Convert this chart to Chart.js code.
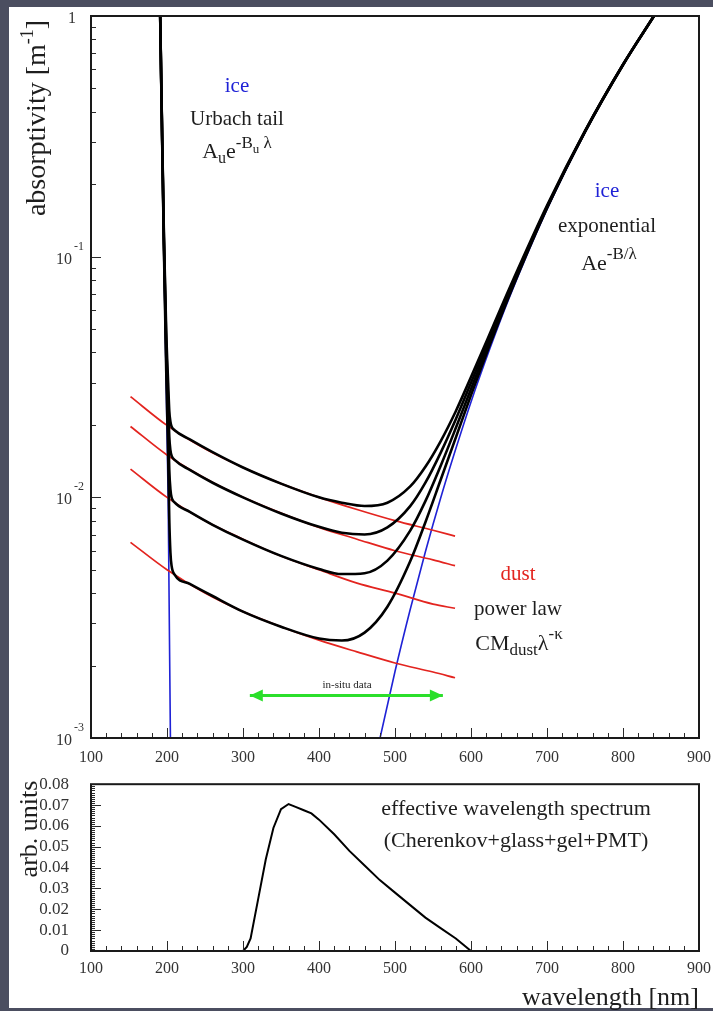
<!DOCTYPE html>
<html><head><meta charset="utf-8">
<script src="https://cdn.jsdelivr.net/npm/chart.js@4.4.1/dist/chart.umd.min.js"></script>
<style>
html,body{margin:0;padding:0;background:#4b4e60;width:713px;height:1011px;overflow:hidden}
#panel{position:absolute;left:9px;top:7px;width:704px;height:1001px;background:#fff}
#c1{position:absolute;left:0;top:0}
#c2{position:absolute;left:0;top:760px}
</style></head><body>
<div id="panel"></div>
<canvas id="c1" width="713" height="780"></canvas>
<canvas id="c2" width="713" height="254"></canvas>
<script>
// ---------------- data ----------------
const blackWl = [191,193,196,199,201.5,203,204.5,206,210,230,260,300,350,400,430,460,490,520,540,560,580,600,625,650,700,750,800,841];
const black1 = [1.02,0.419,0.1204,0.0486,0.0299,0.0229,0.0206,0.0197,0.0190,0.0174,0.0154,0.0133,0.0114,0.0100,0.0095,0.0092,0.0095,0.0111,0.0134,0.0171,0.0228,0.0316,0.0480,0.0732,0.163,0.333,0.629,1.005];
const black2 = [1.016,0.414,0.1153,0.0436,0.0249,0.0179,0.0157,0.0149,0.0143,0.0130,0.0115,0.0100,0.00857,0.00754,0.00713,0.00701,0.00750,0.00919,0.0115,0.0153,0.0211,0.0299,0.0464,0.0716,0.161,0.332,0.628,1.004];
const black3 = [1.010,0.408,0.1102,0.0386,0.0199,0.0130,0.0108,0.0100,0.00952,0.0087,0.00769,0.00667,0.00571,0.00504,0.0048,0.00484,0.00546,0.00727,0.00964,0.0135,0.0194,0.0282,0.0448,0.0701,0.160,0.331,0.627,1.002];
const black4 = [1.005,0.403,0.1051,0.0335,0.0150,0.0081,0.0059,0.0052,0.00477,0.00437,0.00389,0.00335,0.0029,0.00259,0.00254,0.00274,0.00351,0.00542,0.00788,0.0118,0.0177,0.0266,0.0432,0.0685,0.159,0.330,0.626,1.001];

const redWl = [152,200,250,300,350,400,450,500,550,579];
const red1 = [0.0262,0.0199,0.0159,0.0133,0.0114,0.0100,0.0089,0.0080,0.0073,0.0069];
const red2 = [0.0197,0.0150,0.0120,0.0100,0.0086,0.0075,0.0067,0.0060,0.0055,0.0052];
const red3 = [0.0131,0.0100,0.0080,0.0067,0.0057,0.0050,0.0044,0.0040,0.0036,0.00346];
const red4 = [0.0065,0.0050,0.0040,0.00335,0.0029,0.00255,0.00228,0.00205,0.00188,0.00178];

const urbachWl = [191,196,201.5,204.5,205.5];
const urbachVal = [1.0,0.1,0.01,0.001,0.0006];

const iceWl = [470,480,500,520,540,560,580,600,625,650,700,750,800,841];
const iceVal = [0.0007,0.00099,0.00189,0.00342,0.00594,0.00991,0.0159,0.0249,0.0416,0.067,0.157,0.328,0.624,1.0];

const insituWl = [309,563];
const insituVal = [0.0015,0.0015];

const specWl = [300,305,310,320,330,340,350,360,370,380,390,400,420,440,460,480,500,520,540,560,580,590,600];
const specVal = [0,0.002,0.006,0.025,0.044,0.059,0.068,0.0705,0.069,0.0675,0.066,0.063,0.056,0.048,0.041,0.034,0.028,0.022,0.016,0.011,0.006,0.003,0];

const xTickVals = [100,200,300,400,500,600,700,800,900];
const topYTicks = [1,0.1,0.01,0.001];
const topYTickLabels = [['1',''],['10','-1'],['10','-2'],['10','-3']];
const botYTicks = [0,0.01,0.02,0.03,0.04,0.05,0.06,0.07,0.08];

// ---------------- helpers ----------------
const FONT = '"Liberation Serif","Times New Roman",serif';
const BLUE = '#1f22d6', RED = '#e3241f', GREEN = '#2bdf2b', TXT = '#1e1e1e';
const mk = (xs, ys) => xs.map((x, i) => ({x: x, y: ys[i]}));

const xMinor = []; for (let v = 100; v <= 900; v += 20) if (v % 100) xMinor.push(v);
const topYMinor = []; [0.001,0.01,0.1].forEach(d => { for (let k = 2; k <= 9; k++) topYMinor.push(d * k); });
const botYMinor = []; for (let k = 0; k <= 80; k++) if (k % 10) botYMinor.push(k / 1000);

function rich(ctx, segs, cx, by) {
  let w = 0;
  segs.forEach(s => { ctx.font = s[1] + 'px ' + FONT; w += ctx.measureText(s[0]).width; });
  let x = cx - w / 2;
  ctx.textAlign = 'left'; ctx.textBaseline = 'alphabetic';
  segs.forEach(s => {
    ctx.font = s[1] + 'px ' + FONT; ctx.fillStyle = s[3] || TXT;
    ctx.fillText(s[0], x, by + (s[2] || 0));
    x += ctx.measureText(s[0]).width;
  });
}

function decoPlugin(cfg) {
  return {
    id: 'deco_' + cfg.name,
    afterDatasetsDraw(chart) {
      const ctx = chart.ctx, a = chart.chartArea, xs = chart.scales.x, ys = chart.scales.y;
      ctx.save();
      ctx.strokeStyle = '#2a2a2a'; ctx.lineWidth = 1;
      ctx.beginPath();
      const vx = (v, len) => { const p = Math.round(xs.getPixelForValue(v)) + 0.5; ctx.moveTo(p, a.bottom); ctx.lineTo(p, a.bottom - len); };
      const vy = (v, len) => { const p = Math.round(ys.getPixelForValue(v)) + 0.5; ctx.moveTo(a.left, p); ctx.lineTo(a.left + len, p); };
      xTickVals.forEach(v => vx(v, 10));
      xMinor.forEach(v => vx(v, 5));
      cfg.yMajor.forEach(v => vy(v, 10));
      cfg.yMinor.forEach(v => vy(v, cfg.yMinorLen));
      ctx.stroke();
      ctx.lineWidth = 2; ctx.strokeStyle = '#1a1a1a';
      ctx.strokeRect(a.left, a.top, a.right - a.left, a.bottom - a.top);
      if (cfg.extra) cfg.extra(chart, ctx, a, xs, ys);
      ctx.restore();
    }
  };
}

// ---------------- top chart ----------------
const lineDs = (xs, ys, color, w, order, mode) => ({
  data: mk(xs, ys), borderColor: color, borderWidth: w, pointRadius: 0, order: order,
  cubicInterpolationMode: mode || 'monotone', tension: mode === 'straight' ? 0 : 0.4, clip: 0, fill: false
});

new Chart(document.getElementById('c1'), {
  type: 'line',
  data: { datasets: [
    Object.assign(lineDs(insituWl, insituVal, GREEN, 3, 0, 'straight'), {label: 'insitu'}),
    lineDs(blackWl, black1, '#000', 2.6, 1),
    lineDs(blackWl, black2, '#000', 2.6, 1),
    lineDs(blackWl, black3, '#000', 2.6, 1),
    lineDs(blackWl, black4, '#000', 2.6, 1),
    lineDs(redWl, red1, RED, 1.7, 2),
    lineDs(redWl, red2, RED, 1.7, 2),
    lineDs(redWl, red3, RED, 1.7, 2),
    lineDs(redWl, red4, RED, 1.7, 2),
    lineDs(urbachWl, urbachVal, BLUE, 1.6, 3, 'straight'),
    lineDs(iceWl, iceVal, BLUE, 1.6, 3)
  ]},
  options: {
    responsive: false, animation: false, events: [], devicePixelRatio: 1,
    layout: { padding: { left: 0, top: 16, right: 14, bottom: 0 } },
    plugins: { legend: { display: false }, tooltip: { enabled: false } },
    scales: {
      x: { type: 'linear', min: 100, max: 900,
        ticks: { stepSize: 100, font: { family: FONT, size: 16 }, color: '#333', padding: 2, maxRotation: 0, autoSkip: false },
        grid: { display: false }, border: { display: false },
        afterFit(s) { s.height = 42; } },
      y: { type: 'logarithmic', min: 0.001, max: 1,
        ticks: { display: false }, grid: { display: false }, border: { display: false },
        afterFit(s) { s.width = 91; } }
    }
  },
  plugins: [decoPlugin({
    name: 'top', yMajor: topYTicks, yMinor: topYMinor, yMinorLen: 5,
    extra(chart, ctx, a, xs, ys) {
      // arrow heads on in-situ range
      const meta = chart.getDatasetMeta(0);
      const p0 = meta.data[0], p1 = meta.data[meta.data.length - 1];
      ctx.fillStyle = GREEN;
      [[p0, 1], [p1, -1]].forEach(([p, d]) => {
        ctx.beginPath(); ctx.moveTo(p.x, p.y); ctx.lineTo(p.x + d * 13, p.y - 6); ctx.lineTo(p.x + d * 13, p.y + 6); ctx.closePath(); ctx.fill();
      });
      // y tick labels (powers of ten)
      ctx.fillStyle = '#333'; ctx.textBaseline = 'alphabetic';
      topYTicks.forEach((v, i) => {
        const py = ys.getPixelForValue(v);
        const [b, e] = topYTickLabels[i];
        ctx.font = '16px ' + FONT; ctx.textAlign = 'right';
        if (!e) { ctx.fillText(b, 76, py + 7); }
        else {
          ctx.fillText(b, 72, py + 7);
          ctx.font = '12px ' + FONT; ctx.textAlign = 'left';
          ctx.fillText(e, 74, py - 7);
        }
      });
      // y title
      ctx.save();
      ctx.translate(45, 118); ctx.rotate(-Math.PI / 2);
      rich(ctx, [['absorptivity [m', 28], ['-1', 18, -12], [']', 28]], 0, 0);
      ctx.restore();
      // annotations
      rich(ctx, [['ice', 21, 0, BLUE]], 237, 92);
      rich(ctx, [['Urbach tail', 21]], 237, 125);
      rich(ctx, [['A', 22], ['u', 16, 5], ['e', 22], ['-B', 17, -10], ['u', 13, -5], [' λ', 17, -10]], 237, 158);
      rich(ctx, [['ice', 21, 0, BLUE]], 607, 197);
      rich(ctx, [['exponential', 21]], 607, 232);
      rich(ctx, [['Ae', 22], ['-B/λ', 17, -11]], 609, 270);
      rich(ctx, [['dust', 21, 0, RED]], 518, 580);
      rich(ctx, [['power law', 21]], 518, 615);
      rich(ctx, [['CM', 22], ['dust', 17, 5], ['λ', 22], ['-κ', 17, -11]], 519, 650);
      rich(ctx, [['in-situ data', 11]], 347, 688);
    }
  })]
});

// ---------------- bottom chart ----------------
new Chart(document.getElementById('c2'), {
  type: 'line',
  data: { datasets: [ lineDs(specWl, specVal, '#000', 2, 1, 'straight') ] },
  options: {
    responsive: false, animation: false, events: [], devicePixelRatio: 1,
    layout: { padding: { left: 0, top: 21, right: 14, bottom: 0 } },
    plugins: { legend: { display: false }, tooltip: { enabled: false } },
    scales: {
      x: { type: 'linear', min: 100, max: 900,
        ticks: { stepSize: 100, font: { family: FONT, size: 16 }, color: '#333', padding: 0, maxRotation: 0, autoSkip: false },
        grid: { display: false }, border: { display: false },
        title: { display: true, text: 'wavelength [nm]', align: 'end', color: TXT, font: { family: FONT, size: 26 }, padding: { top: 0, bottom: 0 } },
        afterFit(s) { s.height = 63; } },
      y: { type: 'linear', min: 0, max: 0.08,
        afterBuildTicks(s) { s.ticks = botYTicks.map(v => ({ value: v })); },
        ticks: { font: { family: FONT, size: 17 }, color: '#333', padding: 14, autoSkip: false,
          callback: v => (v === 0 ? '0' : v.toFixed(2)) },
        grid: { display: false }, border: { display: false },
        afterFit(s) { s.width = 91; } }
    }
  },
  plugins: [decoPlugin({
    name: 'bot', yMajor: botYTicks, yMinor: botYMinor, yMinorLen: 4,
    extra(chart, ctx) {
      ctx.save();
      ctx.translate(37, 69); ctx.rotate(-Math.PI / 2);
      rich(ctx, [['arb. units', 26]], 0, 0);
      ctx.restore();
      rich(ctx, [['effective wavelength spectrum', 22]], 516, 55);
      rich(ctx, [['(Cherenkov+glass+gel+PMT)', 22]], 516, 87);
    }
  })]
});
</script>
</body></html>
